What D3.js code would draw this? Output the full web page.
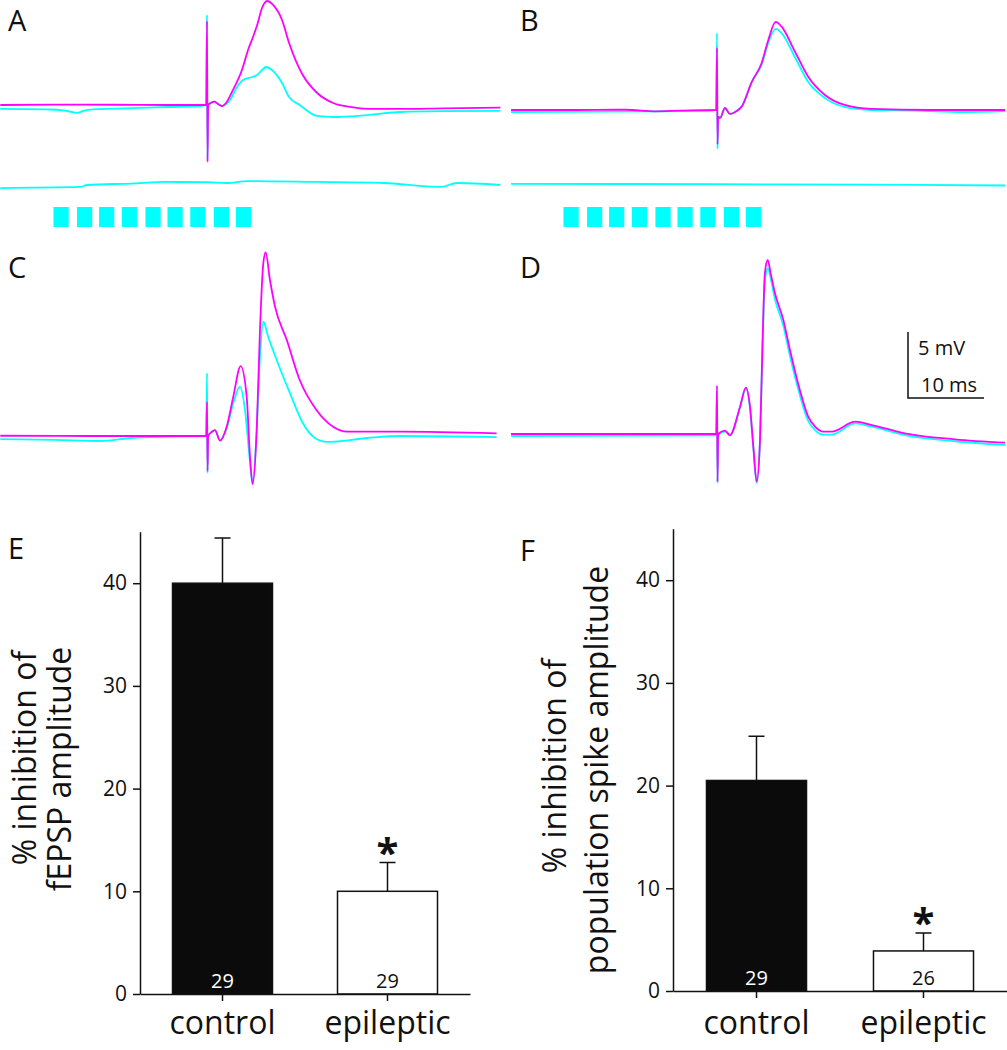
<!DOCTYPE html>
<html>
<head>
<meta charset="utf-8">
<script src="https://cdn.jsdelivr.net/npm/d3@7"></script>
<style>
  html, body { margin: 0; padding: 0; background: #fff; }
  svg { display: block; }
  text { font-family: "Open Sans", "DejaVu Sans", sans-serif; fill: #111; }
</style>
</head>
<body>
<svg id="chart" width="1007" height="1050"></svg>
<script>
// ---------------- DATA ----------------
// Field potential traces: [time (ms, relative to stimulus), voltage (mV, relative to baseline)]
const traceA_magenta = [[-27.2,0],[-20,0.03],[-12,0.02],[-5,0],[-0.1,0],[0,6.36],[0.07,-4.32],[0.15,0],[0.5,0.15],[1.0,0.25],[1.4,0.1],[1.97,-0.08],[2.5,0.15],[3.42,1.14],[4.6,2.65],[5.4,4.17],[6.05,5.15],[6.6,6.06],[7.24,7.35],[7.9,7.88],[8.7,7.58],[9.87,6.44],[10.8,4.7],[12.6,2.27],[14.5,0.91],[16.6,0.15],[18.8,-0.15],[21.1,-0.3],[26,-0.3],[31,-0.25],[38.6,-0.2]];
const traceA_cyan = [[-27.2,-0.3],[-20.7,-0.34],[-19,-0.4],[-18,-0.5],[-17.1,-0.6],[-16.3,-0.45],[-15,-0.33],[-12,-0.28],[-9.7,-0.23],[-5,-0.15],[-0.9,-0.08],[-0.1,0],[0,6.82],[0.07,-4.0],[0.15,0],[0.5,0.15],[1.0,0.25],[1.4,0.1],[1.97,-0.08],[3.03,0.38],[3.95,1.36],[4.74,1.89],[5.92,2.12],[6.58,2.27],[7.24,2.65],[7.76,2.88],[8.55,2.65],[9.87,1.67],[10.8,0.6],[12.2,0],[14.5,-0.83],[16.6,-0.91],[21.1,-0.76],[25.4,-0.53],[31,-0.47],[38.6,-0.45]];
const traceA_light = [[-27.2,-6.29],[-16.7,-6.21],[-15.8,-6.06],[-10,-5.95],[-5.3,-5.83],[0,-5.85],[2.6,-5.91],[5.3,-5.76],[14.5,-5.83],[23.2,-5.91],[30.7,-6.21],[32.9,-5.91],[38.6,-6.06]];

const traceB_magenta = [[-27.1,0],[-20,0],[-12,0.02],[-8,-0.1],[-5,-0.05],[-0.1,0],[0,4.7],[0.07,-2.6],[0.15,-0.5],[0.4,-0.6],[1.05,0.15],[1.7,-0.3],[2.4,-0.15],[3.3,0.3],[4.56,2.12],[5.88,3.56],[6.75,5.3],[7.72,6.67],[8.5,6.31],[10.26,4.42],[12.0,2.52],[14.2,1.14],[16.8,0.38],[20.3,0.08],[28,0],[37.9,0]];
const traceB_cyan = [[-27.1,-0.15],[-15,-0.12],[-8,-0.1],[-0.1,0],[0,5.83],[0.07,-2.95],[0.15,-0.5],[0.4,-0.6],[1.05,0.15],[1.7,-0.3],[2.4,-0.15],[3.3,0.3],[4.56,2.1],[5.88,3.45],[6.75,5.1],[7.72,6.14],[8.5,5.83],[10.26,4.0],[12.0,2.12],[14.2,0.9],[16.8,0.23],[20.3,0],[26,-0.05],[32.6,-0.15],[37.9,-0.08]];
const traceB_light = [[-27.1,-5.6],[0,-5.62],[20,-5.66],[37.9,-5.72]];

const traceC_magenta = [[-27.2,0.02],[-15,0.0],[-5,0],[-0.1,0],[0,2.58],[0.07,-2.65],[0.15,0],[0.6,0.3],[1.05,0.45],[1.71,-0.35],[2.59,0.7],[3.46,2.98],[4.43,5.3],[5.22,2.98],[5.66,-1.57],[6.0,-3.64],[6.54,0.45],[6.97,8.03],[7.41,13.1],[7.72,13.9],[8.29,11.8],[8.95,9.8],[10.5,7.27],[12.2,4.24],[14.4,1.97],[16.6,0.7],[18.4,0.33],[25.4,0.33],[38.1,0.2]];
const traceC_cyan = [[-27.2,-0.23],[-20,-0.3],[-14,-0.38],[-10,-0.15],[-5,-0.05],[-0.1,0],[0,4.77],[0.07,-2.8],[0.15,0],[0.6,0.3],[1.05,0.45],[1.71,-0.35],[2.59,0.6],[3.46,2.5],[4.34,3.74],[5.0,1.97],[5.66,-2.0],[6.0,-3.6],[6.54,0.45],[6.97,6.0],[7.41,8.66],[8.05,7.52],[9.17,5.76],[10.9,3.26],[12.6,0.98],[14.2,-0.15],[15.8,-0.45],[21.1,-0.15],[25.4,0],[38.1,-0.08]];

const traceD_magenta = [[-27.1,0],[-10,0],[-0.1,0],[0,3.66],[0.07,-3.61],[0.15,0],[1.05,0.25],[1.71,-0.08],[3.03,2.07],[3.8,3.51],[4.34,2.07],[4.78,-0.96],[5.22,-3.61],[5.66,-0.45],[6.0,7.12],[6.3,12.17],[6.67,13.18],[7.06,12.17],[7.63,10.66],[8.73,8.64],[9.6,6.36],[10.9,3.33],[12.0,1.31],[12.9,0.56],[14.0,0.18],[15.1,0.18],[18.2,0.93],[20.4,0.68],[24.7,0.05],[31.3,-0.4],[37.9,-0.66]];
const traceD_cyan = [[-27.1,-0.15],[-10,-0.13],[-0.1,-0.1],[0,3.3],[0.07,-3.7],[0.15,-0.1],[1.05,0.2],[1.71,-0.12],[3.03,2.0],[3.8,3.45],[4.34,2.0],[4.78,-1.0],[5.22,-3.7],[5.66,-0.5],[6.0,6.8],[6.3,11.6],[6.7,12.55],[7.1,11.7],[7.63,10.2],[8.73,8.2],[9.6,5.9],[10.9,2.95],[12.0,1.0],[12.9,0.3],[14.0,-0.05],[15.1,-0.05],[18.2,0.8],[20.4,0.55],[24.7,-0.08],[31.3,-0.55],[37.9,-0.83]];

// Light pulse train (onset, ms relative to stimulus), each pulse 2 ms long
const pulseOnsets = [-20.2,-17.1,-14.2,-11.2,-8.1,-5.2,-2.2,0.9,3.8];
const pulseDuration = 2;

// Scale bar
const scaleBarMs = 10;
const scaleBarMv = 5;

// Bar charts
const categories = ["control", "epileptic"];
const fepspMean = [40, 10];
const fepspSem = [4.4, 2.8];
const fepspN = ["29", "29"];
const spikeMean = [20.5, 3.9];
const spikeSem = [4.3, 1.75];
const spikeN = ["29", "26"];
const yTicks = [0, 10, 20, 30, 40];

// ---------------- LAYOUT ----------------
const MAGENTA = "#ff00ff", CYAN = "#00ffff";
const msPx = 7.6, mvPx = 13.2;
const svg = d3.select("#chart");

function panelScales(stimX, baseY) {
  const x = d3.scaleLinear().domain([0, 10]).range([stimX, stimX + 10 * msPx]);
  const y = d3.scaleLinear().domain([0, 5]).range([baseY, baseY - 5 * mvPx]);
  return {x, y};
}

function drawTraces(stimX, baseY, cyanTraces, magentaTraces, pulses) {
  const {x, y} = panelScales(stimX, baseY);
  const g = svg.append("g");
  const line = d3.line().x(d => x(d[0])).y(d => y(d[1])).curve(d3.curveMonotoneX);
  cyanTraces.forEach(t => g.append("path").attr("d", line(t))
    .attr("fill", "none").attr("stroke", CYAN).attr("stroke-width", 1.8).attr("stroke-linejoin", "round"));
  magentaTraces.forEach(t => g.append("path").attr("d", line(t))
    .attr("fill", "none").attr("stroke", MAGENTA).attr("stroke-width", 1.8).attr("stroke-linejoin", "round"));
  if (pulses) {
    g.selectAll("rect.pulse").data(pulseOnsets).enter().append("rect")
      .attr("x", d => x(d)).attr("width", d => x(d + pulseDuration) - x(d))
      .attr("y", 207).attr("height", 20).attr("fill", CYAN);
  }
  return {x, y, g};
}

drawTraces(207, 105, [traceA_cyan, traceA_light], [traceA_magenta], true);
drawTraces(717, 110, [traceB_cyan, traceB_light], [traceB_magenta], true);
drawTraces(207, 436, [traceC_cyan], [traceC_magenta], false);
const pD = drawTraces(717, 434, [traceD_cyan], [traceD_magenta], false);

// Scale bar (drawn with panel D scales)
{
  const ox = 908, oy = 398;
  const w = pD.x(scaleBarMs) - pD.x(0);
  const h = pD.y(0) - pD.y(scaleBarMv);
  svg.append("path").attr("d", `M${ox},${oy - h}V${oy}H${ox + w}`)
    .attr("fill", "none").attr("stroke", "#111").attr("stroke-width", 1.5);
  svg.append("text").attr("x", ox + 10).attr("y", 355).attr("font-size", 20).text(scaleBarMv + " mV");
  svg.append("text").attr("x", ox + 13).attr("y", 392).attr("font-size", 20).text(scaleBarMs + " ms");
}

// Panel letters
[["A", 8, 31], ["B", 520, 31], ["C", 8, 278], ["D", 520, 278], ["E", 8, 559], ["F", 520, 561]]
  .forEach(([t, x, y]) => svg.append("text").attr("x", x).attr("y", y).attr("font-size", 29).text(t));

function barPanel(cfg, means, sems, ns) {
  const g = svg.append("g");
  const x = d3.scaleBand().domain(categories).range([cfg.axisX, cfg.xEnd])
    .paddingInner(cfg.pad).paddingOuter(cfg.pad / 2);
  const y = d3.scaleLinear().domain([0, 45]).range([cfg.baseY, cfg.baseY - 45 * cfg.pxPerUnit]);

  // bars
  g.selectAll("rect.bar").data(categories).enter().append("rect")
    .attr("x", d => x(d)).attr("width", x.bandwidth())
    .attr("y", (d, i) => y(means[i])).attr("height", (d, i) => y(0) - y(means[i]))
    .attr("fill", (d, i) => i === 0 ? "#0b0b0b" : "#fff")
    .attr("stroke", "#111").attr("stroke-width", 1.5);

  // error bars, n labels, significance, category labels
  categories.forEach((c, i) => {
    const cx = x(c) + x.bandwidth() / 2;
    g.append("path").attr("d", `M${cx},${y(means[i])}V${y(means[i] + sems[i])}M${cx - 8},${y(means[i] + sems[i])}H${cx + 8}`)
      .attr("stroke", "#111").attr("stroke-width", 1.5).attr("fill", "none");
    g.append("text").attr("x", cx).attr("y", cfg.baseY - 6).attr("text-anchor", "middle")
      .attr("font-size", 20).style("fill", i === 0 ? "#fff" : "#111").text(ns[i]);
    if (i === 1) {
      g.append("text").attr("x", cx).attr("y", y(means[i] + sems[i]) + 4)
        .attr("text-anchor", "middle").attr("font-size", 40).attr("font-weight", "bold")
        .text("*");
    }
    g.append("text").attr("x", cx).attr("y", 1034).attr("text-anchor", "middle")
      .attr("font-size", 32).text(c);
  });

  // axes
  const yAxis = d3.axisLeft(y).tickValues(yTicks).tickSize(7).tickSizeOuter(0).tickPadding(6);
  const ya = g.append("g").attr("transform", `translate(${cfg.axisX},0)`).call(yAxis);
  ya.select(".domain").attr("stroke", "#111").attr("stroke-width", 1.5);
  ya.selectAll(".tick line").attr("stroke", "#111").attr("stroke-width", 1.5);
  ya.selectAll(".tick text").attr("font-size", 21).attr("font-family", '"Open Sans", sans-serif').style("fill", "#111");

  const xAxis = d3.axisBottom(x).tickSize(7).tickSizeOuter(0).tickFormat("");
  const xa = g.append("g").attr("transform", `translate(0,${cfg.baseY})`).call(xAxis);
  xa.select(".domain").attr("stroke", "#111").attr("stroke-width", 1.5);
  xa.selectAll(".tick line").attr("stroke", "#111").attr("stroke-width", 1.5);

  // y labels (two rotated lines)
  cfg.labels.forEach(([t, bx, cy]) => {
    g.append("text").attr("transform", `translate(${bx},${cy}) rotate(-90)`)
      .attr("text-anchor", "middle").attr("font-size", 32).text(t);
  });
}

barPanel({axisX: 140, xEnd: 470, pad: 0.394, baseY: 994, pxPerUnit: 10.27,
  labels: [["% inhibition of", 36, 758], ["fEPSP amplitude", 71, 769]]},
  fepspMean, fepspSem, fepspN);
barPanel({axisX: 673, xEnd: 1007, pad: 0.401, baseY: 991, pxPerUnit: 10.27,
  labels: [["% inhibition of", 566, 766], ["population spike amplitude", 608, 770]]},
  spikeMean, spikeSem, spikeN);
</script>
</body>
</html>
